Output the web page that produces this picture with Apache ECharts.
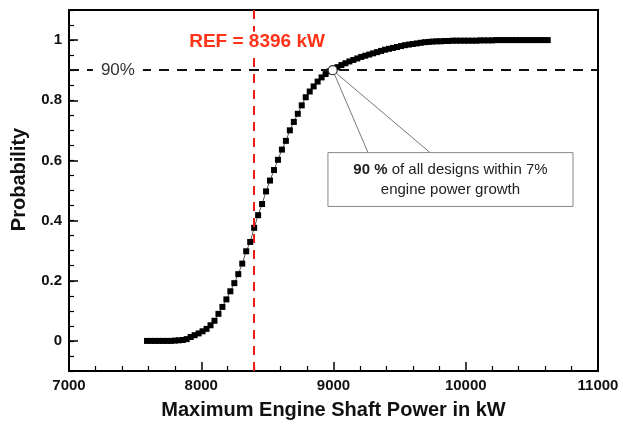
<!DOCTYPE html>
<html>
<head>
<meta charset="utf-8">
<script src="https://cdn.jsdelivr.net/npm/echarts@6/dist/echarts.min.js"></script>
<style>
  html, body { margin: 0; padding: 0; background: #fff; }
  #chart { width: 623px; height: 425px; }
</style>
</head>
<body>
<div id="chart"></div>
<script>
// 发动机功率 (kW) 与累计概率
const powerKW = [
  7590, 7620, 7650, 7680, 7710, 7740, 7770, 7800, 7830, 7860,
  7890, 7920, 7950, 7980, 8010, 8040, 8070, 8100, 8130, 8160,
  8190, 8220, 8250, 8280, 8310, 8340, 8370, 8400, 8430, 8460,
  8490, 8520, 8550, 8580, 8610, 8640, 8670, 8700, 8730, 8760,
  8790, 8820, 8850, 8880, 8910, 8940, 8970, 9000, 9030, 9060,
  9090, 9120, 9150, 9180, 9210, 9240, 9270, 9300, 9330, 9360,
  9390, 9420, 9450, 9480, 9510, 9540, 9570, 9600, 9630, 9660,
  9690, 9720, 9750, 9780, 9810, 9840, 9870, 9900, 9930, 9960,
  9990, 10020, 10050, 10080, 10110, 10140, 10170, 10200, 10230, 10260,
  10290, 10320, 10350, 10380, 10410, 10440, 10470, 10500, 10530, 10560,
  10590, 10620,
]
const probability = [
  0, 0, 0, 0, 0, 0, 0, 0.001, 0.002, 0.003,
  0.006, 0.013, 0.019, 0.025, 0.032, 0.040, 0.052, 0.067, 0.090, 0.113,
  0.138, 0.165, 0.192, 0.222, 0.257, 0.298, 0.329, 0.376, 0.418, 0.455,
  0.497, 0.533, 0.568, 0.602, 0.636, 0.665, 0.700, 0.728, 0.755, 0.783,
  0.810, 0.829, 0.846, 0.862, 0.876, 0.887, 0.896, 0.902, 0.910, 0.917,
  0.923, 0.929, 0.934, 0.939, 0.944, 0.948, 0.952, 0.956, 0.960, 0.964,
  0.968, 0.971, 0.974, 0.977, 0.980, 0.983, 0.985, 0.987, 0.989, 0.991,
  0.993, 0.994, 0.995, 0.996, 0.996, 0.997, 0.997, 0.998, 0.998, 0.998,
  0.998, 0.998, 0.998, 0.998, 0.999, 0.999, 0.999, 0.999, 1, 1,
  1, 1, 1, 1, 1, 1, 1, 1, 1, 1,
  1, 1,
]
// 刻度标签
const xTicks = [7000, 8000, 9000, 10000, 11000]
const yTicks = [0, 0.2, 0.4, 0.6, 0.8, 1]
// 参考线
const refPower = 8396
const level90 = 0.9
const crossPoint = [8994, 0.9]

const FONT = 'Liberation Sans, Arial, sans-serif'
const chart = echarts.init(document.getElementById('chart'))

chart.setOption({
  animation: false,
  grid: {
    left: 69,
    right: 25,
    top: 10,
    bottom: 53,
    show: true,
    borderColor: '#000',
    borderWidth: 2,
  },
  xAxis: {
    type: 'value',
    min: 7000,
    max: 11000,
    interval: 1000,
    name: 'Maximum Engine Shaft Power in kW',
    nameLocation: 'middle',
    nameGap: 29,
    nameTextStyle: { fontFamily: FONT, fontSize: 20, fontWeight: 'bold', color: '#111' },
    axisLine: { show: true, onZero: false, lineStyle: { color: '#000', width: 2 } },
    axisTick: { inside: true, length: 9, lineStyle: { color: '#000', width: 1.5 } },
    minorTick: { show: true, splitNumber: 5, length: 5, lineStyle: { color: '#000', width: 1.2 } },
    axisLabel: {
      customValues: xTicks,
      formatter: (v) => String(v),
      margin: 7,
      fontFamily: FONT,
      fontSize: 15,
      fontWeight: 'bold',
      color: '#111',
    },
    splitLine: { show: false },
  },
  yAxis: [
    {
      type: 'value',
      min: -0.1,
      max: 1.1,
      interval: 0.05,
      name: 'Probability',
      nameLocation: 'middle',
      nameGap: 40,
      nameTextStyle: { fontFamily: FONT, fontSize: 20, fontWeight: 'bold', color: '#111', padding: [0, 0, 0, 22] },
      axisLine: { show: true, onZero: false, lineStyle: { color: '#000', width: 2 } },
      axisTick: { inside: true, length: 5, lineStyle: { color: '#000', width: 1.2 } },
      axisLabel: {
        customValues: yTicks,
        formatter: (v) => String(v),
        margin: 7,
        fontFamily: FONT,
        fontSize: 15,
        fontWeight: 'bold',
        color: '#111',
      },
      splitLine: { show: false },
    },
    {
      // 主刻度（较长）
      type: 'value',
      min: -0.1,
      max: 1.1,
      position: 'left',
      axisLine: { show: false, onZero: false },
      axisTick: { show: true, inside: true, length: 9, customValues: yTicks, lineStyle: { color: '#000', width: 1.5 } },
      axisLabel: { show: false },
      splitLine: { show: false },
    },
  ],
  series: [
    {
      type: 'line',
      data: powerKW.map((x, i) => [x, probability[i]]),
      symbol: 'rect',
      symbolSize: 6,
      itemStyle: { color: '#000' },
      lineStyle: { color: '#555', width: 1 },
      z: 3,
      markLine: {
        silent: true,
        symbol: 'none',
        label: { show: false },
        data: [
          { xAxis: refPower, lineStyle: { color: '#ee1a1a', width: 2, type: [9, 7] } },
          { yAxis: level90, lineStyle: { color: '#111', width: 2, type: [10, 8] } },
        ],
      },
    },
    {
      type: 'scatter',
      data: [crossPoint],
      symbol: 'circle',
      symbolSize: 9,
      itemStyle: { color: '#fff', opacity: 1, borderColor: '#333', borderWidth: 1.2 },
      zlevel: 1,
      z: 50,
    },
  ],
})

// 注释：用数据坐标换算成像素
const px = (p) => chart.convertToPixel({ gridIndex: 0 }, p)
const circ = px(crossPoint)
const boxTL = px([8958, 0.626])
const boxBR = px([10811, 0.447])
const leg1 = px([9261, 0.626])
const leg2 = px([9730, 0.626])
const refLbl = px([8422, 0.993])
const pctLbl = px([7370, level90])

chart.setOption({
  graphic: [
    {
      type: 'line',
      shape: { x1: circ[0], y1: circ[1], x2: leg1[0], y2: leg1[1] },
      style: { stroke: '#777', lineWidth: 1 },
      z: 10,
    },
    {
      type: 'line',
      shape: { x1: circ[0], y1: circ[1], x2: leg2[0], y2: leg2[1] },
      style: { stroke: '#777', lineWidth: 1 },
      z: 10,
    },
    {
      type: 'rect',
      shape: { x: boxTL[0], y: boxTL[1], width: boxBR[0] - boxTL[0], height: boxBR[1] - boxTL[1] },
      style: { fill: '#fff', stroke: '#888', lineWidth: 1 },
      z: 11,
    },
    {
      type: 'text',
      x: (boxTL[0] + boxBR[0]) / 2,
      y: (boxTL[1] + boxBR[1]) / 2,
      z: 12,
      style: {
        text: '{b|90 %} of all designs within 7%\nengine power growth',
        align: 'center',
        verticalAlign: 'middle',
        fontFamily: FONT,
        fontSize: 15,
        lineHeight: 20,
        fill: '#222',
        rich: {
          b: { fontFamily: FONT, fontSize: 15, fontWeight: 'bold', lineHeight: 20, fill: '#222' },
        },
      },
    },
    {
      type: 'text',
      x: refLbl[0],
      y: refLbl[1],
      z: 12,
      style: {
        text: 'REF = 8396 kW',
        align: 'center',
        verticalAlign: 'middle',
        fontFamily: FONT,
        fontSize: 19,
        fontWeight: 'bold',
        fill: '#ff3318',
        backgroundColor: '#fff',
        padding: [1, 3],
      },
    },
    {
      type: 'text',
      x: pctLbl[0],
      y: pctLbl[1],
      z: 12,
      style: {
        text: '90%',
        align: 'center',
        verticalAlign: 'middle',
        fontFamily: FONT,
        fontSize: 17,
        fill: '#333',
        backgroundColor: '#fff',
        padding: [2, 8],
      },
    },
  ],
})
</script>
</body>
</html>
